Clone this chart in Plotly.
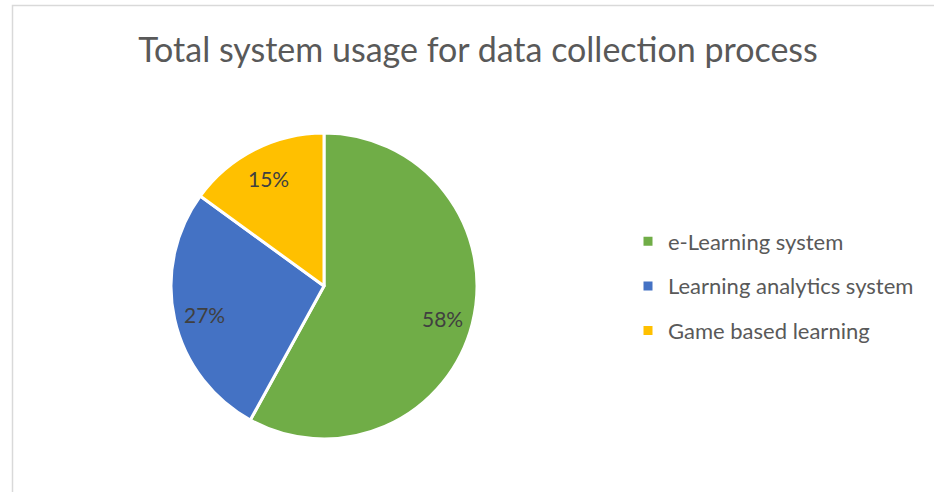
import math
import plotly.graph_objects as go

labels = ["e-Learning system", "Learning analytics system", "Game based learning"]
values = [58, 27, 15]
colors = ["#70AD47", "#4472C4", "#FFC000"]
title_text = "Total system usage for data collection process"

W, H = 934, 492
cx, cy, r = 324, 286, 153
FONT = "Lato, Open Sans, sans-serif"
LABEL_FRAC = 0.8

fig = go.Figure()
fig.add_trace(go.Pie(
    labels=labels, values=values, sort=False, direction="clockwise", rotation=0,
    marker=dict(colors=colors, line=dict(color="white", width=3)),
    textinfo="none", showlegend=False, hoverinfo="label+percent",
    domain=dict(x=[(cx - r) / W, (cx + r) / W], y=[(H - cy - r) / H, (H - cy + r) / H]),
))
for lab, col in zip(labels, colors):
    fig.add_trace(go.Scatter(
        x=[None], y=[None], mode="markers", name=lab, legendgroup=lab,
        marker=dict(symbol="square", size=9, color=col),
    ))

# percentage labels placed at the mid-angle of each slice
total = sum(values)
annotations = []
cum = 0
for v in values:
    mid = (cum + v / 2) / total * 2 * math.pi
    cum += v
    px = cx + LABEL_FRAC * r * math.sin(mid)
    py = cy - LABEL_FRAC * r * math.cos(mid) + 2
    annotations.append(dict(
        x=px / W, y=(H - py) / H, xref="paper", yref="paper", showarrow=False,
        text=f"{round(v / total * 100)}%", xanchor="center", yanchor="middle",
        font=dict(family=FONT, size=21, color="#404040"),
    ))

fig.update_layout(
    width=W, height=H, margin=dict(l=0, r=0, t=0, b=0),
    paper_bgcolor="white", plot_bgcolor="white",
    title=dict(text=title_text, x=478 / W, xanchor="center", y=(H - 50) / H, yanchor="middle",
               font=dict(family=FONT, size=34, color="#595959")),
    xaxis=dict(visible=False), yaxis=dict(visible=False),
    legend=dict(x=628 / W, xanchor="left", y=(H - 286) / H, yanchor="middle",
                font=dict(family=FONT, size=22, color="#595959"), tracegroupgap=13,
                itemwidth=30),
    annotations=annotations,
    shapes=[dict(type="rect", xref="paper", yref="paper", x0=12.5 / W, x1=1.05, y0=-0.05, y1=(H - 5.5) / H,
                 line=dict(color="#D9D9D9", width=1.5), fillcolor="rgba(0,0,0,0)")],
)
fig.write_html("out.html", config={"displayModeBar": False},
               post_script="document.body.style.margin='0';")
